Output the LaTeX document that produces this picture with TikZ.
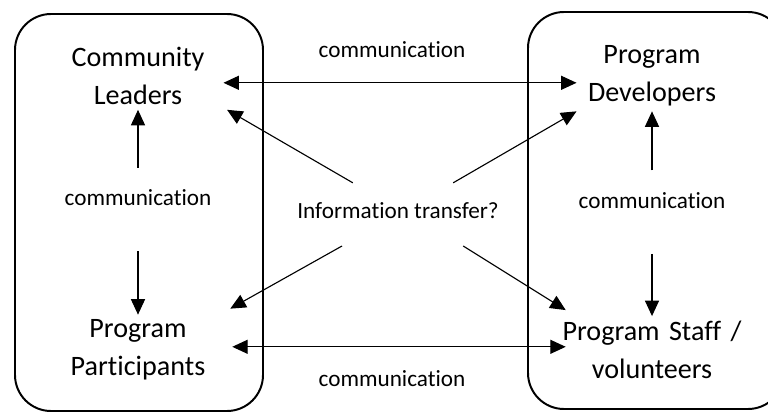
\documentclass[tikz,border=0pt]{standalone}
\usepackage{fontspec}
\setmainfont{Carlito}[Ligatures=NoCommon]
\usepackage{tikz}
\usetikzlibrary{arrows.meta, positioning}

\tikzset{
	actor/.style={text width=4.8cm, align=center, inner xsep=0pt, inner ysep=0.12cm, font=\fontsize{20}{27}\selectfont},
	note/.style={inner sep=0pt, font=\fontsize{16.5}{20}\selectfont},
	group/.style={line width=1.4pt, rounded corners=0.9cm},
	arr/.style={-{Triangle[length=11pt,width=10pt]}, line width=0.8pt},
	arrs/.style={{Triangle[length=11pt,width=10pt]}-{Triangle[length=11pt,width=10pt]}, line width=0.8pt}
}

\begin{document}
\begin{tikzpicture}
			\useasboundingbox (0,0) rectangle (19.2,10.35);
			\clip (0,0) rectangle (19.2,10.35);
			
			% Groups
			\draw[group] (0.375,0.075) rectangle (6.575,10.0);
			\draw[group] (13.2,0.125) rectangle (19.6,10.05);
			
			% Actors
			\node[actor] (CL) at (3.45,8.45) {Community\\Leaders};
			\node[actor] (PP) at (3.45,1.6) {Program\\Participants};
			\node[actor] (PD) at (16.3,8.45) {Program\\Developers};
			\node[actor] (PS) at (16.3,1.6) {Program Staff /\\volunteers};
			
			% Labels
			\node[note] (cmTop) at (9.8,9.1) {communication};
			\node[note] (cmBot) at (9.8,0.88) {communication};
			\node[note] (cmL) at (3.45,5.4) {communication};
			\node[note] (cmR) at (16.3,5.33) {communication};
			\node[note] (Info) at (9.95,5.08) {Information transfer?};
			
			% Communication between groups
			\draw[arrs] ([xshift=-0.27cm,yshift=-0.17cm]CL.east) -- ([xshift=0.52cm,yshift=-0.17cm]PD.west);
			\draw[arrs] ([xshift=-0.05cm,yshift=0.08cm]PP.east) -- ([xshift=0.25cm,yshift=0.08cm]PS.west);
			
			% Communication inside groups
			\draw[arr] ([yshift=0.55cm]cmL.north) -- (CL.south);
			\draw[arr] ([yshift=-1.12cm]cmL.south) -- (PP.north);
			\draw[arr] ([yshift=0.55cm]cmR.north) -- (PD.south);
			\draw[arr] ([yshift=-1.12cm]cmR.south) -- (PS.north);
			
			% Information transfer
			\draw[arr] ([shift={(-1.13,0.7)}]Info.center) -- ([xshift=-0.18cm]CL.south east);
			\draw[arr] ([shift={(1.38,0.7)}]Info.center) -- ([xshift=0.52cm]PD.south west);
			\draw[arr] ([shift={(-1.4,-0.88)}]Info.center) -- ([xshift=-0.1cm,yshift=0.15cm]PP.north east);
			\draw[arr] ([shift={(1.63,-0.88)}]Info.center) -- ([xshift=0.25cm,yshift=0.15cm]PS.north west);
		\end{tikzpicture}
\end{document}
